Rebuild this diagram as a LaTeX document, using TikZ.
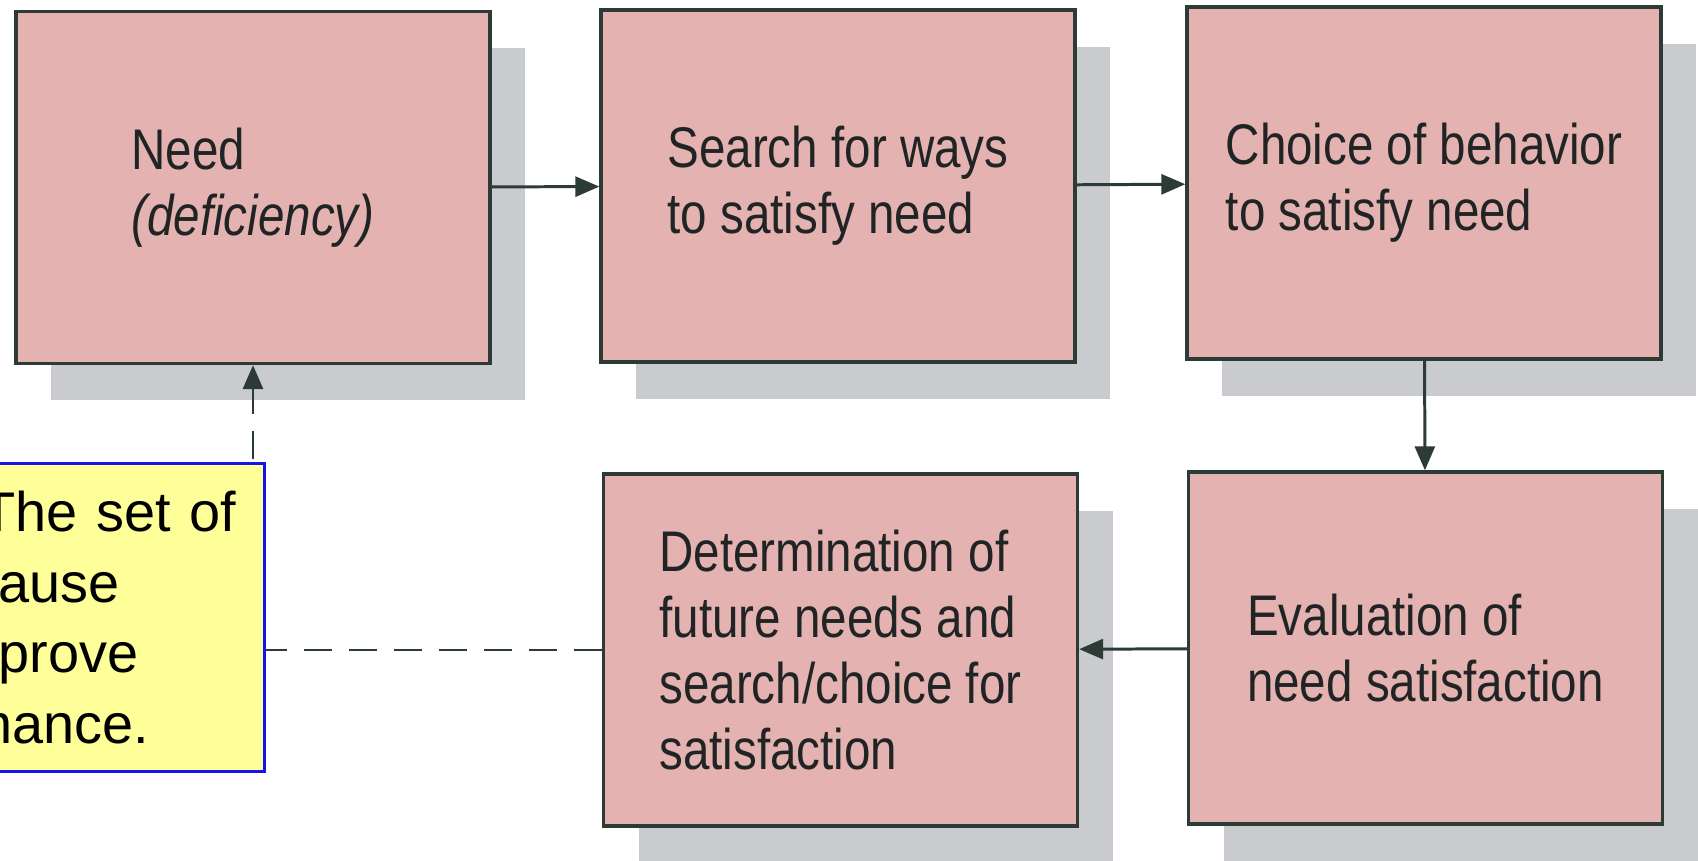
\documentclass[tikz,border=0pt]{standalone}
\usepackage{fontspec}
\setmainfont{Liberation Sans}
\newfontfamily\condfont[FakeStretch=0.83]{Liberation Sans}
\usepackage{tikz}
\usetikzlibrary{arrows.meta,shadows}
\definecolor{boxpink}{RGB}{228,178,176}
\definecolor{shadowgrey}{RGB}{201,203,207}
\definecolor{linegrey}{RGB}{45,59,55}
\definecolor{textgrey}{RGB}{32,36,36}
\definecolor{noteyellow}{RGB}{255,255,153}
\definecolor{noteblue}{RGB}{20,20,235}

\begin{document}
\begin{tikzpicture}[
                    stagebox/.style={draw=linegrey, line width=0.95pt, fill=boxpink, minimum width=4.74cm, minimum height=3.52cm, align=left, text=textgrey, font=\condfont\fontsize{16.3}{18.8}\selectfont, drop shadow={shadow xshift=0.35cm, shadow yshift=-0.37cm, fill=shadowgrey, opacity=1}},
                    flow/.style={draw=linegrey, line width=0.85pt, -{Triangle[length=2.4mm, width=2mm]}},
                    feedback/.style={flow, dash pattern=on 0.28cm off 0.17cm},
                    notebox/.style={draw=noteblue, line width=0.9pt, fill=noteyellow, minimum height=3.08cm, text width=2.73cm, inner xsep=0.1cm, align=left, font=\fontsize{15.9}{20.1}\selectfont}]
                    \useasboundingbox (0, 0) rectangle (16.98, -8.61);
                    \clip (0, 0) rectangle (16.98, -8.61);
                    
                    \node [stagebox] (need) at(2.53, -1.875) {Need\\\textit{(deficiency)}};
                    \node [stagebox] (search) at(8.38, -1.86) {Search for ways\\to satisfy need};
                    \node [stagebox] (choice) at(14.24, -1.83) {Choice of behavior\\to satisfy need};
                    \node [stagebox] (evaluation) at(14.255, -6.48) {Evaluation of\\need satisfaction};
                    \node [stagebox] (determination) at(8.405, -6.50) {Determination of\\future needs and\\search/choice for\\satisfaction};
                    
                    \draw [flow](need) --(search);
                    \draw [flow](search) --(choice);
                    \draw [flow](choice) --(evaluation);
                    \draw [flow](evaluation) --(determination);
                    \draw [feedback](determination.west) -|(need.south);
                    
                    \node [notebox, anchor=north east] (note) at(2.66, -4.62) {The set of\\\hspace*{0.17cm}ause\\\hspace*{0.17cm}prove\\nance.};
                    \end{tikzpicture}
\end{document}
